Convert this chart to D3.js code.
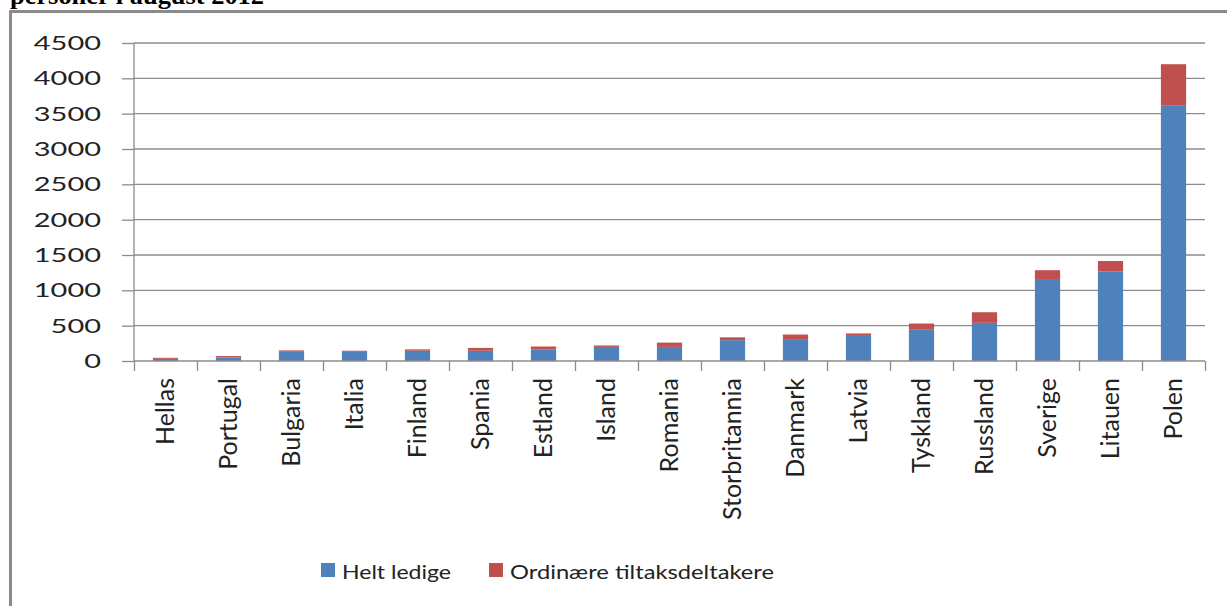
<!DOCTYPE html>
<html>
<head>
<meta charset="utf-8">
<script src="https://cdn.jsdelivr.net/npm/d3@7"></script>
<style>
  html, body { margin: 0; padding: 0; background: #fff; }
  svg { display: block; }
</style>
</head>
<body>
<svg id="chart" width="1227" height="606"></svg>
<script>
const categories = ["Hellas","Portugal","Bulgaria","Italia","Finland","Spania","Estland","Island","Romania","Storbritannia","Danmark","Latvia","Tyskland","Russland","Sverige","Litauen","Polen"];
const heltLedige = [30,50,130,130,145,145,165,200,200,295,310,355,450,540,1160,1265,3620];
const tiltak     = [15,20,20,15,20,40,40,20,60,40,65,35,80,150,125,150,580];
const seriesNames = ["Helt ledige","Ordinære tiltaksdeltakere"];
const seriesColors = ["#4F81BD","#C0504D"];
const yTicks = [0,500,1000,1500,2000,2500,3000,3500,4000,4500];
const titleText = "personer i august 2012";

(function () {
const svg = d3.select("#chart");
const pLeft = 134, pRight = 1205, pTop = 43, pBottom = 361;

// frame
svg.append("path")
  .attr("d", `M10.5,640 L10.5,11.5 L1260,11.5`)
  .attr("fill", "none").attr("stroke", "#8a8a8a").attr("stroke-width", 3);

// title (clipped at top)
svg.append("text")
  .attr("x", 10).attr("y", 4)
  .attr("font-family", "'Liberation Serif', 'Times New Roman', serif")
  .attr("font-weight", "bold").attr("font-size", 26)
  .attr("textLength", 254).attr("lengthAdjust", "spacingAndGlyphs")
  .attr("fill", "#000")
  .text(titleText);

const y = d3.scaleLinear().domain([0, 4500]).range([pBottom, pTop]);
const x = d3.scaleBand().domain(categories).range([pLeft, pRight]).paddingInner(0.6).paddingOuter(0.3);
const xi = d3.scaleLinear().domain([0, categories.length]).range([pLeft, pRight]);

// gridlines
svg.append("g").selectAll("line").data(yTicks.filter(d => d > 0)).join("line")
  .attr("x1", pLeft).attr("x2", pRight)
  .attr("y1", d => y(d)).attr("y2", d => y(d))
  .attr("stroke", "#8c8c8c").attr("stroke-width", 1.3);

// bars
const stackData = categories.map((c, i) => ({cat: c, a: heltLedige[i], b: tiltak[i]}));
const stack = d3.stack().keys(["a","b"])(stackData);
svg.append("g").selectAll("g").data(stack).join("g")
  .attr("fill", (d, i) => seriesColors[i])
  .selectAll("rect").data(d => d).join("rect")
  .attr("x", d => x(d.data.cat))
  .attr("width", x.bandwidth())
  .attr("y", d => y(d[1]))
  .attr("height", d => y(d[0]) - y(d[1]));

// y axis
const yAxis = svg.append("g").attr("transform", `translate(${pLeft},0)`)
  .call(d3.axisLeft(y).tickValues(yTicks).tickSize(12).tickPadding(21).tickFormat(d3.format("d")));
yAxis.select(".domain").attr("stroke", "#8c8c8c").attr("stroke-width", 1.3).attr("d", `M0,${pTop}V${pBottom}`);
yAxis.selectAll(".tick line").attr("stroke", "#8c8c8c").attr("stroke-width", 1.3);
const sx = 1.45;
yAxis.selectAll(".tick text")
  .attr("font-family", "Lato, 'Open Sans', sans-serif").attr("font-size", 20)
  .attr("fill", "#222")
  .attr("x", -33 / sx)
  .attr("transform", `scale(${sx},1)`);

// x axis ticks between categories
const xAxis = svg.append("g").attr("transform", `translate(0,${pBottom})`)
  .call(d3.axisBottom(xi).tickValues(d3.range(categories.length + 1)).tickSize(10).tickFormat(""));
xAxis.select(".domain").attr("stroke", "#8c8c8c").attr("stroke-width", 1.3).attr("d", `M${pLeft},0H${pRight}`);
xAxis.selectAll(".tick line").attr("stroke", "#8c8c8c").attr("stroke-width", 1.3);

// category labels
const xLab = svg.append("g").attr("transform", `translate(0,${pBottom})`)
  .call(d3.axisBottom(x).tickSize(0).tickPadding(0));
xLab.select(".domain").remove();
xLab.selectAll(".tick text")
  .attr("font-family", "Lato, 'Open Sans', sans-serif").attr("font-size", 25)
  .attr("fill", "#222")
  .attr("transform", "rotate(-90)")
  .attr("text-anchor", "end")
  .attr("x", -17).attr("y", 0).attr("dy", "0.35em");

// legend
const legend = svg.append("g");
const legItems = [
  {name: seriesNames[0], color: seriesColors[0], x: 321, w: 109},
  {name: seriesNames[1], color: seriesColors[1], x: 489, w: 264}
];
legItems.forEach(it => {
  legend.append("rect").attr("x", it.x).attr("y", 563).attr("width", 14).attr("height", 14).attr("fill", it.color);
  legend.append("text").attr("x", it.x + 21).attr("y", 579)
    .attr("font-family", "Lato, 'Open Sans', sans-serif").attr("font-size", 20)
    .attr("fill", "#222")
    .attr("textLength", it.w).attr("lengthAdjust", "spacingAndGlyphs")
    .text(it.name);
});
})();
</script>
</body>
</html>
